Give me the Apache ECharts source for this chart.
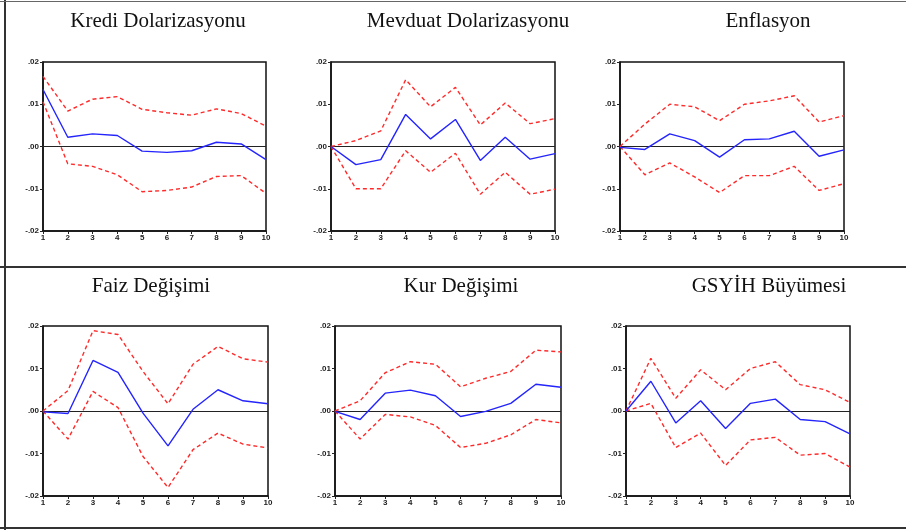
<!DOCTYPE html>
<html>
<head>
<meta charset="utf-8">
<script src="https://cdn.jsdelivr.net/npm/echarts@6/dist/echarts.min.js"></script>
<style>html,body{margin:0;padding:0;background:#fff;}#c{width:906px;height:530px;}</style>
</head>
<body>
<div id="c"></div>
<script>
var periods = ['1','2','3','4','5','6','7','8','9','10'];
var yTicks = [-0.02, -0.01, 0, 0.01, 0.02];

var titles = ['Kredi Dolarizasyonu','Mevduat Dolarizasyonu','Enflasyon','Faiz Değişimi','Kur Değişimi','GSYİH Büyümesi'];

var krediIrf   = [0.0135, 0.0022, 0.0030, 0.0026, -0.0011, -0.0014, -0.0010, 0.0010, 0.0006, -0.0031];
var krediUpper = [0.0166, 0.0084, 0.0112, 0.0118, 0.0088, 0.0080, 0.0074, 0.0089, 0.0078, 0.0048];
var krediLower = [0.0106, -0.0041, -0.0047, -0.0067, -0.0107, -0.0104, -0.0096, -0.0071, -0.0069, -0.0111];

var mevduatIrf   = [0, -0.0043, -0.0031, 0.0076, 0.0018, 0.0064, -0.0033, 0.0022, -0.0030, -0.0017];
var mevduatUpper = [0, 0.0014, 0.0037, 0.0158, 0.0094, 0.0140, 0.0051, 0.0103, 0.0054, 0.0066];
var mevduatLower = [0, -0.0100, -0.0100, -0.0010, -0.0061, -0.0016, -0.0113, -0.0061, -0.0113, -0.0101];

var enflasyonIrf   = [-0.0002, -0.0007, 0.0030, 0.0014, -0.0025, 0.0016, 0.0018, 0.0036, -0.0023, -0.0008];
var enflasyonUpper = [0, 0.0053, 0.0100, 0.0094, 0.0061, 0.0100, 0.0108, 0.0120, 0.0058, 0.0073];
var enflasyonLower = [0, -0.0067, -0.0039, -0.0072, -0.0109, -0.0069, -0.0069, -0.0047, -0.0104, -0.0088];

var faizIrf   = [-0.0002, -0.0006, 0.0119, 0.0091, -0.0005, -0.0082, 0.0004, 0.0050, 0.0024, 0.0017];
var faizUpper = [0, 0.0048, 0.0189, 0.0180, 0.0093, 0.0017, 0.0110, 0.0152, 0.0123, 0.0115];
var faizLower = [0, -0.0066, 0.0046, 0.0008, -0.0107, -0.0180, -0.0091, -0.0052, -0.0078, -0.0087];

var kurIrf   = [-0.0001, -0.0020, 0.0042, 0.0049, 0.0036, -0.0013, -0.0001, 0.0018, 0.0063, 0.0056];
var kurUpper = [0, 0.0024, 0.0090, 0.0116, 0.0110, 0.0057, 0.0077, 0.0093, 0.0143, 0.0139];
var kurLower = [0, -0.0066, -0.0008, -0.0014, -0.0034, -0.0086, -0.0076, -0.0056, -0.0020, -0.0028];

var gsyihIrf   = [0, 0.0070, -0.0028, 0.0024, -0.0041, 0.0018, 0.0028, -0.0020, -0.0025, -0.0054];
var gsyihUpper = [0, 0.0124, 0.0030, 0.0097, 0.0050, 0.0100, 0.0116, 0.0062, 0.0050, 0.0020];
var gsyihLower = [0, 0.0018, -0.0086, -0.0052, -0.0128, -0.0068, -0.0062, -0.0104, -0.0100, -0.0132];

var panels = [
  [krediIrf, krediUpper, krediLower],
  [mevduatIrf, mevduatUpper, mevduatLower],
  [enflasyonIrf, enflasyonUpper, enflasyonLower],
  [faizIrf, faizUpper, faizLower],
  [kurIrf, kurUpper, kurLower],
  [gsyihIrf, gsyihUpper, gsyihLower]
];

var gridBoxes = [
  {left: 43, top: 62, width: 223, height: 169},
  {left: 331, top: 62, width: 224, height: 169},
  {left: 620, top: 62, width: 224, height: 169},
  {left: 43, top: 326, width: 225, height: 170},
  {left: 335, top: 326, width: 226, height: 170},
  {left: 626, top: 326, width: 224, height: 170}
];
var titlePos = [
  {x: 158, y: 21}, {x: 468, y: 21}, {x: 768, y: 21},
  {x: 151, y: 286}, {x: 461, y: 286}, {x: 769, y: 286}
];

function fmt(v) {
  var s = v.toFixed(2);
  return s.replace('0.', '.');
}

var grid = [], xAxis = [], yAxis = [], series = [], graphic = [];
for (var i = 0; i < 6; i++) {
  var g = gridBoxes[i];
  grid.push({left: g.left, top: g.top, width: g.width, height: g.height, show: true,
    borderColor: '#111', borderWidth: 1.5, backgroundColor: 'transparent', containLabel: false});
  xAxis.push({type: 'category', gridIndex: i, data: periods, boundaryGap: false,
    axisLine: {show: true, onZero: false, lineStyle: {color: '#111', width: 1.5}},
    axisTick: {show: true, alignWithLabel: true, length: 3, lineStyle: {color: '#222'}},
    axisLabel: {show: true, fontSize: 8, color: '#222', fontFamily: 'Liberation Sans, Arial', fontWeight: 'bold', margin: 3},
    splitLine: {show: false}});
  yAxis.push({type: 'value', gridIndex: i, min: -0.02, max: 0.02, interval: 0.01,
    axisLine: {show: true, lineStyle: {color: '#111', width: 1.5}},
    axisTick: {show: true, length: 3, lineStyle: {color: '#222'}},
    axisLabel: {show: true, fontSize: 8, color: '#222', fontFamily: 'Liberation Sans, Arial', fontWeight: 'bold', margin: 4,
      customValues: yTicks, formatter: fmt},
    splitLine: {show: false}});
  var d = panels[i];
  series.push({type: 'line', xAxisIndex: i, yAxisIndex: i, data: d[0], symbol: 'none',
    lineStyle: {color: '#2424ff', width: 1.4}, z: 5,
    markLine: {silent: true, symbol: ['none','none'], label: {show: false},
      lineStyle: {color: '#222', width: 1.2, type: 'solid'}, data: [{yAxis: 0}], z: 3}});
  series.push({type: 'line', xAxisIndex: i, yAxisIndex: i, data: d[1], symbol: 'none',
    lineStyle: {color: '#ff2a2a', width: 1.4, type: [4, 3]}, z: 4});
  series.push({type: 'line', xAxisIndex: i, yAxisIndex: i, data: d[2], symbol: 'none',
    lineStyle: {color: '#ff2a2a', width: 1.4, type: [4, 3]}, z: 4});
  graphic.push({type: 'text', x: titlePos[i].x, y: titlePos[i].y,
    style: {text: titles[i], fill: '#111', font: '21px "Liberation Serif", "Times New Roman", serif',
      textAlign: 'center', textVerticalAlign: 'middle'}});
}
graphic.push({type: 'line', shape: {x1: 5, y1: 0, x2: 5, y2: 530}, style: {stroke: '#333', lineWidth: 2}});
graphic.push({type: 'line', shape: {x1: 0, y1: 1.5, x2: 906, y2: 1.5}, style: {stroke: '#666', lineWidth: 1}});
graphic.push({type: 'line', shape: {x1: 0, y1: 267, x2: 906, y2: 267}, style: {stroke: '#333', lineWidth: 2}});
graphic.push({type: 'line', shape: {x1: 0, y1: 528, x2: 906, y2: 528}, style: {stroke: '#333', lineWidth: 2}});

var chart = echarts.init(document.getElementById('c'), null, {renderer: 'canvas'});
chart.setOption({animation: false, backgroundColor: '#fff', grid: grid, xAxis: xAxis, yAxis: yAxis, series: series, graphic: graphic});
</script>
</body>
</html>
